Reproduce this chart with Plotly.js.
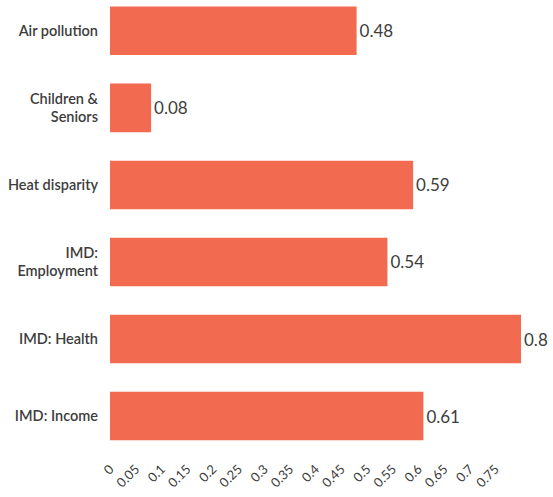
<!DOCTYPE html>
<html>
<head>
<meta charset="utf-8">
<script src="https://cdn.plot.ly/plotly-3.0.1.min.js"></script>
<style>html,body{margin:0;padding:0;background:#fff;}#chart{width:553px;height:497px;}</style>
</head>
<body>
<div id="chart"></div>
<script>
const categories = ["Air pollution", "Children &<br>Seniors", "Heat disparity", "IMD:<br>Employment", "IMD: Health", "IMD: Income"];
const values = [0.48, 0.08, 0.59, 0.54, 0.8, 0.61];
const tickValues = [0, 0.05, 0.1, 0.15, 0.2, 0.25, 0.3, 0.35, 0.4, 0.45, 0.5, 0.55, 0.6, 0.65, 0.7, 0.75];
const tickLabels = ["0", "0.05", "0.1", "0.15", "0.2", "0.25", "0.3", "0.35", "0.4", "0.45", "0.5", "0.55", "0.6", "0.65", "0.7", "0.75"];

const trace = {
  type: "bar",
  orientation: "h",
  y: categories,
  x: values,
  text: values.map(v => String(v)),
  textposition: "outside",
  cliponaxis: false,
  textfont: {family: "Lato, sans-serif", size: 17, color: "#3d3d3d"},
  marker: {color: "#F26A50"},
  hoverinfo: "none"
};

const layout = {
  width: 553, height: 497,
  margin: {l: 110, r: 32, t: 0, b: 47},
  paper_bgcolor: "#ffffff",
  plot_bgcolor: "#ffffff",
  bargap: 0.37,
  showlegend: false,
  font: {family: "Lato, sans-serif", color: "#3d3d3d"},
  xaxis: {
    range: [0, 0.8],
    tickvals: tickValues,
    ticktext: tickLabels,
    tickangle: -45,
    showgrid: false,
    zeroline: false,
    showline: false,
    ticks: "",
    ticklabelstandoff: 8,
    tickfont: {family: "Lato, sans-serif", size: 13, color: "#3d3d3d"}
  },
  yaxis: {
    type: "category",
    range: [5.44, -0.40],
    showgrid: false,
    zeroline: false,
    showline: false,
    ticks: "",
    ticklabelstandoff: 11,
    tickfont: {family: "Lato, sans-serif", size: 14.5, color: "#3d3d3d", weight: 600}
  }
};

Plotly.newPlot("chart", [trace], layout, {staticPlot: true, displayModeBar: false});
</script>
</body>
</html>
